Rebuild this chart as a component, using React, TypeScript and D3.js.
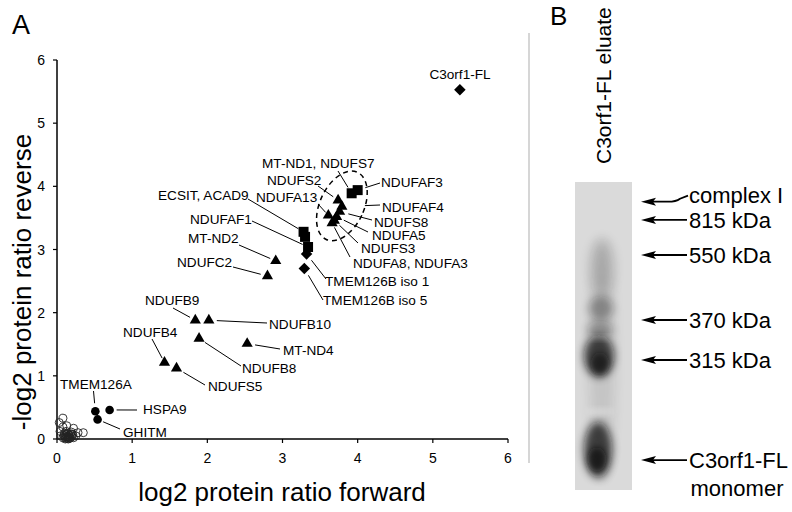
import React from 'react';
import * as d3 from 'd3';

// ---------- Panel A data ----------
const xTicks = [0, 1, 2, 3, 4, 5, 6];
const yTicks = [0, 1, 2, 3, 4, 5, 6];

const openX = [0.08, 0.03, 0.08, 0.13, 0.22, 0.28, 0.35, 0.04, 0.12, 0.18, 0.10, 0.14, 0.16, 0.20, 0.12, 0.17, 0.22, 0.08, 0.25, 0.14, 0.19, 0.05, 0.10, 0.21, 0.15, 0.11, 0.13, 0.16, 0.09, 0.18, 0.12, 0.15, 0.20, 0.11];
const openY = [0.33, 0.26, 0.19, 0.21, 0.17, 0.10, 0.10, 0.12, 0.12, 0.08, 0.05, 0.03, 0.06, 0.04, 0.01, 0.01, 0.02, 0.02, 0.05, 0.08, 0.11, 0.05, 0.09, 0.07, 0.00, 0.03, 0.04, 0.03, 0.06, 0.02, 0.07, 0.01, 0.08, 0.00];

const circleNames = ['TMEM126A', 'HSPA9', 'GHITM'];
const circleX = [0.51, 0.70, 0.54];
const circleY = [0.44, 0.46, 0.31];

const triNames = ['NDUFB9', 'NDUFB10', 'NDUFB8', 'MT-ND4', 'NDUFB4', 'NDUFS5', 'MT-ND2', 'NDUFC2', 'NDUFS2', 'NDUFAF4', 'NDUFS8', 'NDUFA13', 'NDUFA5', 'NDUFS3', 'NDUFA8'];
const triX = [1.84, 2.02, 1.89, 2.53, 1.43, 1.59, 2.91, 2.80, 3.74, 3.79, 3.76, 3.61, 3.72, 3.69, 3.66];
const triY = [1.88, 1.88, 1.59, 1.51, 1.21, 1.12, 2.82, 2.58, 3.78, 3.68, 3.60, 3.54, 3.52, 3.46, 3.42];

const sqNames = ['MT-ND1', 'NDUFAF3', 'ECSIT', 'ACAD9', 'NDUFAF1'];
const sqX = [3.92, 4.00, 3.28, 3.30, 3.34];
const sqY = [3.89, 3.94, 3.28, 3.20, 3.04];

const dmNames = ['TMEM126B iso 1', 'TMEM126B iso 5', 'C3orf1-FL'];
const dmX = [3.32, 3.29, 5.36];
const dmY = [2.93, 2.70, 5.53];

// ---------- Panel B data ----------
const gelMarkerLabels = ['complex I', '815 kDa', '550 kDa', '370 kDa', '315 kDa', 'C3orf1-FL'];
const gelMarkerMig = [0.064, 0.123, 0.237, 0.448, 0.578, 0.903];
const gelBandMig = [0.58, 0.28, 0.41, 0.48, 0.565, 0.59, 0.87, 0.90];
const gelBandIntensity = [0.1, 0.16, 0.35, 0.3, 0.75, 0.6, 0.75, 0.7];

// ---------- layout (annotations) ----------
type Ann = { text: string; target: [number, number]; tx: number; ty: number; lx?: number; ly?: number; gap?: number; anchor?: string };
const pt = (names: string[], xs: number[], ys: number[], n: string): [number, number] => {
  const i = names.indexOf(n);
  return [xs[i], ys[i]];
};
const T = (n: string) => pt(triNames, triX, triY, n);
const S = (n: string) => pt(sqNames, sqX, sqY, n);
const D = (n: string) => pt(dmNames, dmX, dmY, n);
const C = (n: string) => pt(circleNames, circleX, circleY, n);

const anns: Ann[] = [
  { text: 'C3orf1-FL', target: D('C3orf1-FL'), tx: 460, ty: 79, anchor: 'middle' },
  { text: 'MT-ND1, NDUFS7', target: S('MT-ND1'), tx: 262, ty: 168, lx: 338, ly: 171, gap: 7 },
  { text: 'NDUFS2', target: T('NDUFS2'), tx: 267, ty: 185, lx: 318, ly: 186, gap: 6 },
  { text: 'NDUFAF3', target: S('NDUFAF3'), tx: 381, ty: 187, lx: 380, ly: 183, gap: 8 },
  { text: 'ECSIT, ACAD9', target: S('ECSIT'), tx: 158, ty: 200, lx: 248, ly: 199, gap: 6 },
  { text: 'NDUFA13', target: T('NDUFA13'), tx: 256, ty: 202, lx: 318, ly: 204, gap: 4 },
  { text: 'NDUFAF4', target: T('NDUFAF4'), tx: 382, ty: 212, lx: 380, ly: 205, gap: 23 },
  { text: 'NDUFAF1', target: S('NDUFAF1'), tx: 190, ty: 224, lx: 252, ly: 221, gap: 6 },
  { text: 'NDUFS8', target: T('NDUFS8'), tx: 374, ty: 227, lx: 372, ly: 220, gap: 9 },
  { text: 'NDUFA5', target: T('NDUFA5'), tx: 372, ty: 240, lx: 368, ly: 232, gap: 8 },
  { text: 'MT-ND2', target: T('MT-ND2'), tx: 188, ty: 243, lx: 239, ly: 245, gap: 6 },
  { text: 'NDUFS3', target: T('NDUFS3'), tx: 361, ty: 253, lx: 358, ly: 243, gap: 7 },
  { text: 'NDUFC2', target: T('NDUFC2'), tx: 177, ty: 267, lx: 233, ly: 267, gap: 7 },
  { text: 'NDUFA8, NDUFA3', target: T('NDUFA8'), tx: 353, ty: 268, lx: 350, ly: 257, gap: 5 },
  { text: 'TMEM126B iso 1', target: D('TMEM126B iso 1'), tx: 325, ty: 286, lx: 326, ly: 279, gap: 8 },
  { text: 'TMEM126B iso 5', target: D('TMEM126B iso 5'), tx: 323, ty: 305, lx: 323, ly: 300, gap: 8 },
  { text: 'NDUFB9', target: T('NDUFB9'), tx: 145, ty: 305, lx: 173, ly: 308, gap: 6 },
  { text: 'NDUFB10', target: T('NDUFB10'), tx: 269, ty: 329, lx: 267, ly: 323, gap: 8 },
  { text: 'MT-ND4', target: T('MT-ND4'), tx: 283, ty: 355, lx: 280, ly: 349, gap: 8 },
  { text: 'NDUFB8', target: T('NDUFB8'), tx: 242, ty: 373, lx: 241, ly: 366, gap: 7 },
  { text: 'NDUFB4', target: T('NDUFB4'), tx: 123, ty: 337, lx: 152, ly: 339, gap: 5 },
  { text: 'NDUFS5', target: T('NDUFS5'), tx: 208, ty: 391, lx: 205, ly: 385, gap: 8 },
  { text: 'TMEM126A', target: C('TMEM126A'), tx: 60, ty: 389, lx: 93.5, ly: 391, gap: 8 },
  { text: 'HSPA9', target: C('HSPA9'), tx: 143, ty: 414, lx: 137, ly: 410, gap: 7 },
  { text: 'GHITM', target: C('GHITM'), tx: 123, ty: 437, lx: 120, ly: 429, gap: 6 },
];

const FONT = '"Liberation Sans", Arial, Helvetica, sans-serif';

export default function App() {
  const x = d3.scaleLinear().domain([0, 6]).range([57, 508]);
  const y = d3.scaleLinear().domain([0, 6]).range([439, 60]);
  const yGel = d3.scaleLinear().domain([0, 1]).range([182, 490]);

  const triPath = d3.symbol().type(d3.symbolTriangle).size(54)()!;
  const sqPath = d3.symbol().type(d3.symbolSquare).size(100)()!;
  const dmPath = d3.symbol().type(d3.symbolSquare).size(66)()!;

  const ell = { cx: x(3.79), cy: y(3.69) };

  // gel band shapes (layout)
  const bandShape = [
    { cx: 602, rx: 13, ry: 120, blur: 'b6' },
    { cx: 602, rx: 12, ry: 30, blur: 'b6' },
    { cx: 601, rx: 12, ry: 12, blur: 'b4' },
    { cx: 600, rx: 13, ry: 9, blur: 'b4' },
    { cx: 599, rx: 15, ry: 21, blur: 'b4' },
    { cx: 600, rx: 9, ry: 11, blur: 'b3' },
    { cx: 598, rx: 14, ry: 28, blur: 'b4' },
    { cx: 597, rx: 9, ry: 12, blur: 'b3' },
  ];

  return (
    <svg width={792} height={512} style={{ position: 'absolute', left: 0, top: 0, background: '#fff' }} fontFamily={FONT}>
      <defs>
        <filter id="b6" x="-100%" y="-100%" width="300%" height="300%"><feGaussianBlur stdDeviation="6" /></filter>
        <filter id="b4" x="-100%" y="-100%" width="300%" height="300%"><feGaussianBlur stdDeviation="4" /></filter>
        <filter id="b3" x="-100%" y="-100%" width="300%" height="300%"><feGaussianBlur stdDeviation="3" /></filter>
        <clipPath id="gelclip"><rect x={575} y={182} width={57} height={308} /></clipPath>
      </defs>

      {/* Panel labels */}
      <text x={12} y={34} fontSize={27}>A</text>
      <text x={550} y={25} fontSize={26}>B</text>

      {/* separator */}
      <line x1={529} x2={529} y1={33} y2={463} stroke="#c8c8c8" strokeWidth={1.5} />

      {/* axes */}
      <line x1={x(0)} x2={x(6)} y1={y(0)} y2={y(0)} stroke="#000" strokeWidth={1.5} />
      <line x1={x(0)} x2={x(0)} y1={y(0)} y2={y(6)} stroke="#000" strokeWidth={1.5} />
      {xTicks.map((t) => (
        <g key={'xt' + t}>
          <line x1={x(t)} x2={x(t)} y1={y(0)} y2={y(0) + 4} stroke="#000" strokeWidth={1.2} />
          <text x={x(t)} y={463} fontSize={14} textAnchor="middle">{t}</text>
        </g>
      ))}
      {yTicks.map((t) => (
        <g key={'yt' + t}>
          <line x1={x(0) - 4} x2={x(0)} y1={y(t)} y2={y(t)} stroke="#000" strokeWidth={1.2} />
          <text x={45} y={y(t) + 5} fontSize={14} textAnchor="end">{t}</text>
        </g>
      ))}
      <text x={282} y={501} fontSize={26} textAnchor="middle">log2 protein ratio forward</text>
      <text transform="translate(31,282) rotate(-90)" fontSize={26} textAnchor="middle">-log2 protein ratio reverse</text>

      {/* open circles */}
      {openX.map((v, i) => (
        <circle key={'o' + i} cx={x(v)} cy={y(openY[i])} r={4} fill="none" stroke="#222" strokeWidth={0.9} />
      ))}

      {/* leader lines */}
      {anns.filter((a) => a.lx !== undefined).map((a, i) => {
        const px = x(a.target[0]);
        const py = y(a.target[1]);
        const dx = px - a.lx!;
        const dy = py - a.ly!;
        const len = Math.hypot(dx, dy);
        const g = a.gap ?? 6;
        const ex = px - (dx / len) * g;
        const ey = py - (dy / len) * g;
        return <line key={'l' + i} x1={a.lx} y1={a.ly} x2={ex} y2={ey} stroke="#000" strokeWidth={1} />;
      })}

      {/* filled circles */}
      {circleX.map((v, i) => (
        <circle key={'c' + i} cx={x(v)} cy={y(circleY[i])} r={4.3} fill="#000" />
      ))}
      {/* triangles */}
      {triX.map((v, i) => (
        <path key={'t' + i} d={triPath} transform={`translate(${x(v)},${y(triY[i])})`} fill="#000" />
      ))}
      {/* squares */}
      {sqX.map((v, i) => (
        <path key={'s' + i} d={sqPath} transform={`translate(${x(v)},${y(sqY[i])})`} fill="#000" />
      ))}
      {/* diamonds */}
      {dmX.map((v, i) => (
        <path key={'d' + i} d={dmPath} transform={`translate(${x(v)},${y(dmY[i])}) rotate(45)`} fill="#000" />
      ))}

      {/* dashed ellipse */}
      <ellipse cx={0} cy={0} rx={22} ry={37} transform={`translate(${ell.cx},${ell.cy}) rotate(25)`} fill="none" stroke="#000" strokeWidth={1.5} strokeDasharray="5 4" />

      {/* annotation texts */}
      {anns.map((a, i) => (
        <text key={'a' + i} x={a.tx} y={a.ty} fontSize={13.6} textAnchor={a.anchor ?? 'start'}>{a.text}</text>
      ))}

      {/* Panel B */}
      <text transform="translate(611,164) rotate(-90)" fontSize={21}>C3orf1-FL eluate</text>
      <rect x={575} y={182} width={57} height={308} fill="#dadada" />
      <g clipPath="url(#gelclip)">
        {gelBandMig.map((m, i) => (
          <ellipse key={'gb' + i} cx={bandShape[i].cx} cy={yGel(m)} rx={bandShape[i].rx} ry={bandShape[i].ry}
            fill="#111" opacity={gelBandIntensity[i]} filter={`url(#${bandShape[i].blur})`} />
        ))}
        <ellipse cx={600} cy={yGel(0.505)} rx={14} ry={1.5} fill="#fff" opacity={0.35} filter="url(#b3)" />
        <ellipse cx={600} cy={yGel(0.745)} rx={14} ry={2} fill="#fff" opacity={0.5} filter="url(#b3)" />
      </g>

      {gelMarkerLabels.map((lab, i) => {
        const yy = yGel(gelMarkerMig[i]);
        const isCurve = i === 0;
        return (
          <g key={'gm' + i}>
            <path d={`M641,${yy} L656,${yy - 4} L653,${yy} L656,${yy + 4} Z`} fill="#000" />
            {isCurve ? (
              <path d={`M652,${yy} L668,${yy} Q676,${yy} 680,${yy - 3} L688,${yy - 6}`} fill="none" stroke="#000" strokeWidth={1.8} />
            ) : (
              <line x1={652} x2={687} y1={yy} y2={yy} stroke="#000" strokeWidth={1.8} />
            )}
            <text x={689} y={isCurve ? yy + 1 : yy + 8} fontSize={22}>{lab}</text>
          </g>
        );
      })}
      <text x={737} y={yGel(gelMarkerMig[5]) + 36} fontSize={22} textAnchor="middle">monomer</text>
    </svg>
  );
}
